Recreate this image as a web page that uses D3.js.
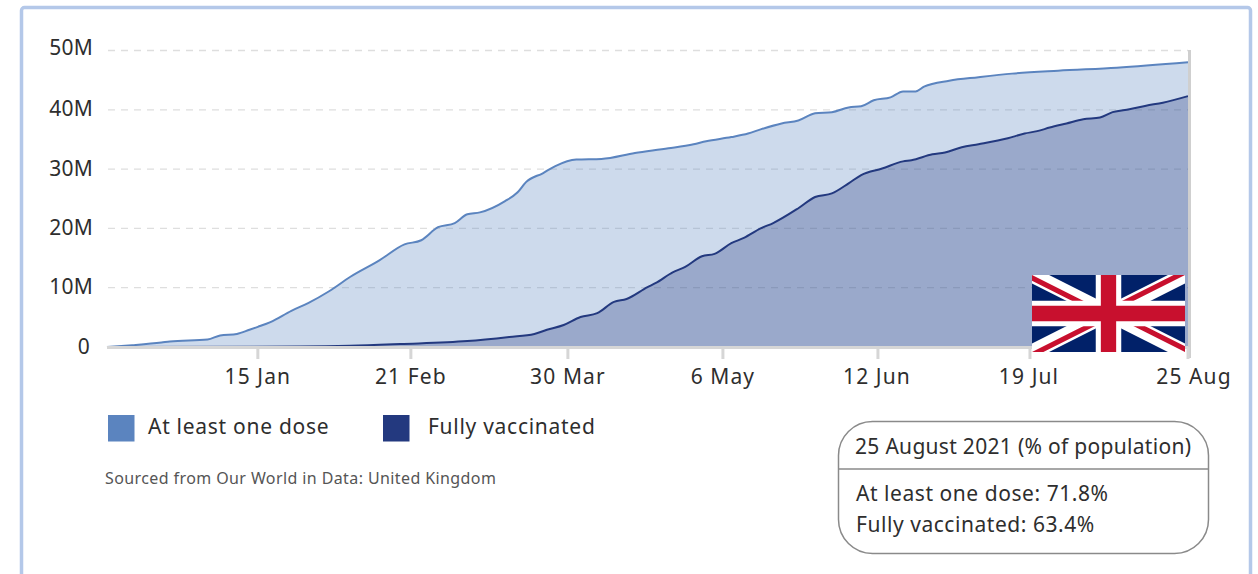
<!DOCTYPE html>
<html><head><meta charset="utf-8">
<script src="https://cdn.jsdelivr.net/npm/d3@7"></script>
<style>
html,body{margin:0;padding:0;background:#fff;overflow:hidden}
svg{display:block}
text{font-family:"Noto Sans",sans-serif;fill:#2e2e2e}
</style></head><body>
<svg id="c" width="1258" height="574"></svg>
<script>
const seriesNames = ["At least one dose","Fully vaccinated"];
const seriesColors = ["#5b84bf","#23397f"];
const yTicks = [0,10,20,30,40,50];
const xTickDates = ["2021-01-15","2021-02-21","2021-03-30","2021-05-06","2021-06-12","2021-07-19","2021-08-25"];
const xTickLabels = ["15 Jan","21 Feb","30 Mar","6 May","12 Jun","19 Jul","25 Aug"];
const boxTitle = "25 August 2021 (% of population)";
const boxLines = ["At least one dose: 71.8%","Fully vaccinated: 63.4%"];
const sourceNote = "Sourced from Our World in Data: United Kingdom";

const oneDoseDates = ["2020-12-10","2020-12-16","2020-12-23","2020-12-25","2021-01-03","2021-01-06","2021-01-10","2021-01-13","2021-01-15","2021-01-18","2021-01-23","2021-01-27","2021-02-01","2021-02-06","2021-02-13","2021-02-19","2021-02-23","2021-02-27","2021-03-03","2021-03-06","2021-03-09","2021-03-15","2021-03-18","2021-03-20","2021-03-24","2021-03-27","2021-04-01","2021-04-07","2021-04-15","2021-04-23","2021-04-29","2021-05-02","2021-05-08","2021-05-12","2021-05-15","2021-05-20","2021-05-24","2021-05-28","2021-06-01","2021-06-05","2021-06-08","2021-06-11","2021-06-15","2021-06-18","2021-06-21","2021-06-23","2021-06-29","2021-07-06","2021-07-14","2021-07-25","2021-08-08","2021-08-25"];
const oneDoseValues = [0,0.3,0.75,0.93,1.26,1.94,2.2,2.9,3.4,4.2,6.1,7.4,9.4,11.8,14.6,17.3,18.0,20.2,20.9,22.4,22.7,24.6,26.1,27.8,29.3,30.5,31.6,31.7,32.7,33.5,34.2,34.7,35.4,36.0,36.7,37.7,38.2,39.4,39.6,40.4,40.6,41.6,42.1,43.1,43.1,43.9,44.9,45.5,46.1,46.6,47.1,48.0];

const fullDates = ["2020-12-10","2021-01-25","2021-02-06","2021-02-18","2021-03-06","2021-03-16","2021-03-22","2021-03-25","2021-03-29","2021-04-02","2021-04-06","2021-04-10","2021-04-13","2021-04-18","2021-04-20","2021-04-24","2021-04-27","2021-05-01","2021-05-04","2021-05-08","2021-05-11","2021-05-15","2021-05-18","2021-05-24","2021-05-28","2021-06-01","2021-06-05","2021-06-08","2021-06-13","2021-06-18","2021-06-20","2021-06-25","2021-06-28","2021-07-02","2021-07-06","2021-07-13","2021-07-17","2021-07-20","2021-07-23","2021-07-27","2021-07-31","2021-08-04","2021-08-07","2021-08-11","2021-08-15","2021-08-19","2021-08-25"];
const fullValues = [0,0.08,0.2,0.5,1.0,1.7,2.2,2.9,3.7,5.05,5.7,7.6,8.1,10.1,10.8,12.6,13.5,15.3,15.7,17.5,18.4,20.0,20.9,23.4,25.3,25.9,27.6,29.0,30.1,31.3,31.5,32.5,32.8,33.7,34.2,35.2,36.0,36.4,37.0,37.7,38.4,38.7,39.6,40.1,40.7,41.2,42.3];

const parse = d3.utcParse("%Y-%m-%d");
const svg = d3.select("#c");
const x = d3.scaleUtc().domain([parse("2020-12-10"),parse("2021-08-25")]).range([107,1188]);
const y = d3.scaleLinear().domain([0,50]).range([347,50.5]);

// outer frame
svg.append("rect").attr("x",21.5).attr("y",7.5).attr("width",1229).attr("height",600).attr("rx",3)
  .attr("fill","#fff").attr("stroke","#b4c8e9").attr("stroke-width",3.5);

// grid
svg.append("g").selectAll("line").data(yTicks.filter(d=>d>0)).join("line")
  .attr("x1",108).attr("x2",1188).attr("y1",d=>y(d)).attr("y2",d=>y(d))
  .attr("stroke","#dedede").attr("stroke-width",1.3).attr("stroke-dasharray","7 6");

// y labels
svg.append("g").selectAll("text").data(yTicks).join("text")
  .attr("x",d=>d===0?90:93).attr("y",d=>y(d)+(d===50?4:6.5)).attr("text-anchor","end")
  .attr("font-size",21).attr("letter-spacing",0.2).text(d=>d===0?"0":d+"M");

// areas and lines
const dose = oneDoseDates.map((d,i)=>({date:parse(d),v:oneDoseValues[i]}));
const full = fullDates.map((d,i)=>({date:parse(d),v:fullValues[i]}));
[dose,full].forEach((s,i)=>{
  const area = d3.area().x(d=>x(d.date)).y0(y(0)).y1(d=>y(d.v)).curve(d3.curveMonotoneX);
  const line = d3.line().x(d=>x(d.date)).y(d=>y(d.v)).curve(d3.curveMonotoneX);
  svg.append("path").attr("d",area(s)).attr("fill",seriesColors[i]).attr("fill-opacity",0.3);
  svg.append("path").attr("d",line(s)).attr("fill","none").attr("stroke",seriesColors[i]).attr("stroke-width",2);
});

// axes
svg.append("line").attr("x1",107).attr("x2",1189).attr("y1",347.5).attr("y2",347.5).attr("stroke","#d6d6d6").attr("stroke-width",3);
svg.append("line").attr("x1",1189.5).attr("x2",1189.5).attr("y1",50).attr("y2",358).attr("stroke","#cfcfcf").attr("stroke-width",3);
const labelNudge = [0,-2,0,0,-1,-4,6];
const xt = svg.append("g").selectAll("g").data(xTickDates).join("g")
  .attr("transform",d=>`translate(${x(parse(d))},0)`);
xt.append("line").attr("x1",(d,i)=>i===5?-3:i===1?-2:0).attr("x2",(d,i)=>i===5?-3:i===1?-2:0)
  .attr("y1",347).attr("y2",359).attr("stroke","#d6d6d6").attr("stroke-width",3);
xt.append("text").attr("x",(d,i)=>labelNudge[i]).attr("y",384).attr("text-anchor","middle").attr("font-size",21).attr("letter-spacing",1.1)
  .text((d,i)=>xTickLabels[i]);

// flag
const flag = svg.append("svg").attr("x",1032).attr("y",275).attr("width",153).attr("height",77)
  .attr("viewBox","0 0 60 30").attr("preserveAspectRatio","none");
flag.append("rect").attr("width",60).attr("height",30).attr("fill","#012169");
flag.append("path").attr("d","M0,0L60,30M60,0L0,30").attr("stroke","#fff").attr("stroke-width",6);
const cp = flag.append("clipPath").attr("id","fc");
cp.append("path").attr("d","M30,15H60V30ZM30,15V30H0ZM30,15H0V0ZM30,15V0H60Z");
flag.append("path").attr("d","M0,0L60,30M60,0L0,30").attr("stroke","#C8102E").attr("stroke-width",4).attr("clip-path","url(#fc)");
flag.append("path").attr("d","M30,0V30M0,15H60").attr("stroke","#fff").attr("stroke-width",10);
flag.append("path").attr("d","M30,0V30M0,15H60").attr("stroke","#C8102E").attr("stroke-width",6);

// legend
const lx = [108,383];
const ltx = [148,428];
seriesNames.forEach((n,i)=>{
  svg.append("rect").attr("x",lx[i]).attr("y",415).attr("width",26.5).attr("height",26.5).attr("fill",seriesColors[i]);
  svg.append("text").attr("x",ltx[i]).attr("y",434).attr("font-size",21).attr("letter-spacing",0.72).text(n);
});
svg.append("text").attr("x",105).attr("y",484).attr("font-size",16).attr("letter-spacing",0.4).style("fill","#555").text(sourceNote);

// summary box
svg.append("rect").attr("x",838.5).attr("y",421.5).attr("width",370).attr("height",132).attr("rx",34)
  .attr("fill","#fff").attr("stroke","#8a8a8a").attr("stroke-width",1.5);
svg.append("line").attr("x1",838.5).attr("x2",1208.5).attr("y1",469).attr("y2",469).attr("stroke","#8a8a8a").attr("stroke-width",1.5);
svg.append("text").attr("x",855).attr("y",454).attr("font-size",21).attr("letter-spacing",0.3).text(boxTitle);
boxLines.forEach((t,i)=>svg.append("text").attr("x",856).attr("y",501+i*31).attr("font-size",21).attr("letter-spacing",0.55).text(t));
</script>
</body></html>
